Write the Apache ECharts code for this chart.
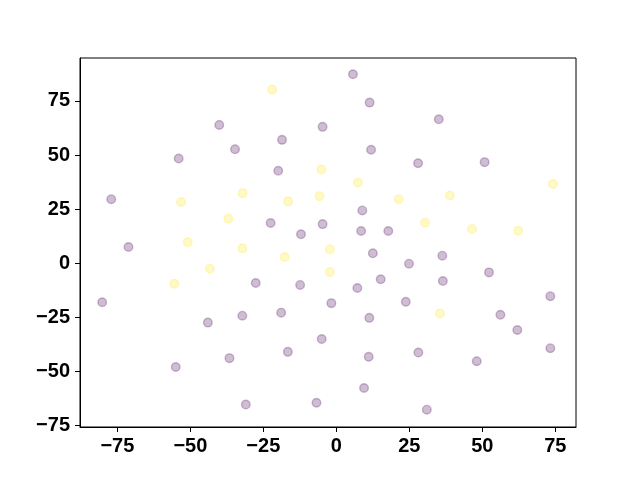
<!DOCTYPE html>
<html><head><meta charset="utf-8">
<script src="https://cdn.jsdelivr.net/npm/echarts@6/dist/echarts.min.js"></script>
<style>html,body{margin:0;padding:0;background:#fff}#c{width:640px;height:480px}</style>
</head><body><div id="c"></div>
<script>
const xTicks = [-75, -50, -25, 0, 25, 50, 75];
const yTicks = [-75, -50, -25, 0, 25, 50, 75];
const purpleX = [-40.1, -4.7, -18.6, -34.7, -54.0, -19.9, -77.1, -22.5, -4.7, -12.1,
  5.7, 11.4, 35.1, 11.9, 28.0, 50.8, 8.9, 8.5, 17.8,
  -71.2, -27.6, -12.4, -80.2, -1.7, -44.0, -32.2, -18.9, -5.0, -16.6, -36.6, -55.0, -31.0, -6.8,
  12.5, 24.9, 36.3, 15.2, 7.2, 36.5, 52.3, 73.3, 23.8, 11.3, 56.2, 62.0, 73.3, 11.1, 28.1, 48.1, 9.5, 31.0];
const purpleY = [63.9, 63.0, 57.0, 52.7, 48.4, 42.7, 29.6, 18.6, 18.1, 13.4,
  87.3, 74.2, 66.5, 52.4, 46.2, 46.7, 24.4, 14.9, 14.9,
  7.5, -9.1, -10.0, -18.0, -18.4, -27.4, -24.2, -22.8, -35.0, -40.9, -43.8, -47.9, -65.2, -64.4,
  4.6, -0.2, 3.5, -7.4, -11.4, -8.2, -4.2, -15.2, -17.8, -25.2, -23.8, -30.8, -39.2, -43.2, -41.2, -45.2, -57.6, -67.6];
const yellowX = [-22.0, -5.1, -32.1, -53.2, -16.5, -5.8, -37.0,
  7.4, 74.2, 21.4, 38.9, 30.4, 46.5, 62.3,
  -50.9, -32.2, -17.7, -2.2, -43.3, -55.5, -2.2, 35.5];
const yellowY = [80.2, 43.3, 32.4, 28.3, 28.6, 31.0, 20.7,
  37.3, 36.6, 29.6, 31.3, 18.7, 15.8, 15.0,
  9.7, 6.9, 2.9, 6.5, -2.5, -9.4, -4.0, -23.2];

const zip = (a, b) => a.map((v, i) => [v, b[i]]);
const fmt = v => String(v).replace('-', '\u2212');
const lbl = {color: '#000', fontFamily: 'Liberation Sans, Arial, sans-serif', fontWeight: 'bold', fontSize: 20, formatter: fmt};

const chart = echarts.init(document.getElementById('c'), null, {renderer: 'canvas'});
chart.setOption({
  animation: false,
  backgroundColor: '#fff',
  grid: {left: 80, right: 64, top: 58, bottom: 53, show: true, borderColor: '#000', borderWidth: 1, backgroundColor: 'transparent'},
  xAxis: {type: 'value', min: -87.8, max: 82.1,
    axisLine: {show: true, onZero: false, lineStyle: {color: '#000', width: 1}},
    axisTick: {show: true, length: 5, inside: false, customValues: xTicks, lineStyle: {color: '#000'}},
    axisLabel: Object.assign({margin: 9, customValues: xTicks}, lbl),
    splitLine: {show: false}},
  yAxis: {type: 'value', min: -75.6, max: 94.8,
    axisLine: {show: true, onZero: false, lineStyle: {color: '#000', width: 1}},
    axisTick: {show: true, length: 5, inside: false, customValues: yTicks, lineStyle: {color: '#000'}},
    axisLabel: Object.assign({margin: 10, customValues: yTicks}, lbl),
    splitLine: {show: false}},
  series: [
    {type: 'scatter', data: zip(purpleX, purpleY), symbolSize: 8.6,
     itemStyle: {color: 'rgba(68,1,84,0.32)', borderColor: 'rgba(68,1,84,0.32)', borderWidth: 1.4}},
    {type: 'scatter', data: zip(yellowX, yellowY), symbolSize: 8.6,
     itemStyle: {color: 'rgba(253,231,37,0.32)', borderColor: 'rgba(253,231,37,0.32)', borderWidth: 1.4}}
  ]
});
</script></body></html>
